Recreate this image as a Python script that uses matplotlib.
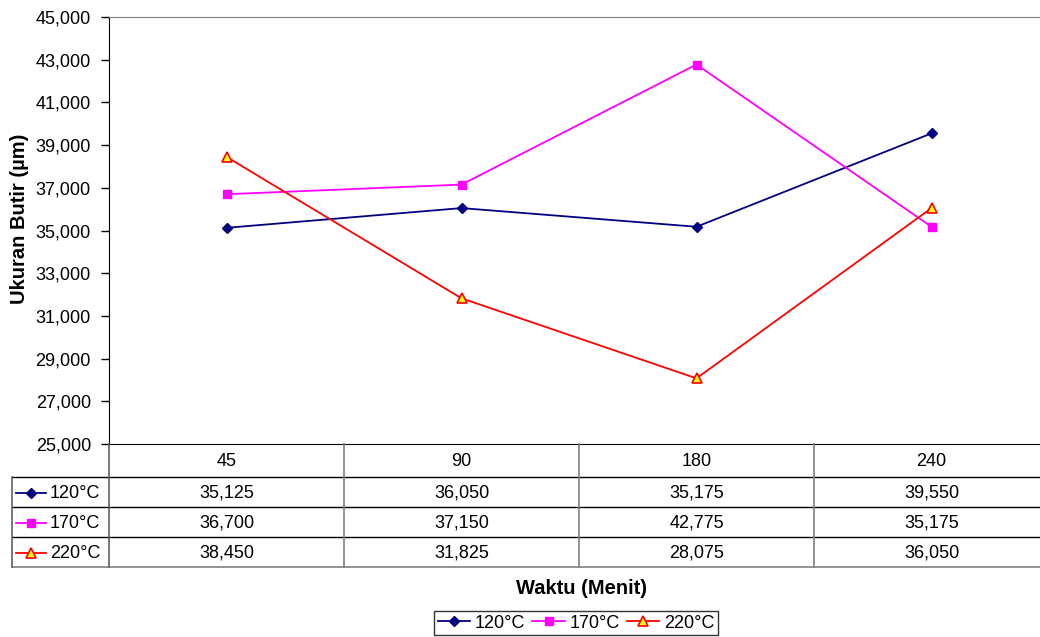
import matplotlib
matplotlib.use("Agg")
import matplotlib.pyplot as plt
from matplotlib.lines import Line2D

plt.rcParams["font.family"] = ["Liberation Sans", "DejaVu Sans"]

# Data
categories = ["45", "90", "180", "240"]
series_names = ["120°C", "170°C", "220°C"]
s120 = [35125, 36050, 35175, 39550]
s170 = [36700, 37150, 42775, 35175]
s220 = [38450, 31825, 28075, 36050]
y_ticks = list(range(25000, 45001, 2000))

styles = [
    dict(color="#000080", marker="D", mfc="#000080", mec="#000080", ms=5.5),
    dict(color="#FF00FF", marker="s", mfc="#FF00FF", mec="#FF00FF", ms=6),
    dict(color="#FF0000", marker="^", mfc="#FFFF00", mec="#FF0000", ms=7, mew=1.2),
]

FS = 13
W, H = 1040, 637
fig = plt.figure(figsize=(W / 100, H / 100), dpi=100)

# plot area in pixels
px_left, px_top, px_bottom = 109, 17, 444
col_w = 235
px_right = px_left + col_w * len(categories)
ax = fig.add_axes([px_left / W, 1 - px_bottom / H,
                   (px_right - px_left) / W, (px_bottom - px_top) / H])

x = list(range(len(categories)))
for vals, name, st in zip([s120, s170, s220], series_names, styles):
    ax.plot(x, vals, lw=1.3, label=name, **st)

ax.set_xlim(-0.5, len(categories) - 0.5)
ax.set_ylim(25000, 45000)
ax.set_yticks(y_ticks)
ax.set_yticklabels([f"{v:,}" for v in y_ticks], fontsize=FS)
ax.tick_params(axis="y", direction="out", length=6, width=1, pad=7)
ax.set_xticks([])
ax.spines["right"].set_visible(False)
ax.spines["top"].set_color("#808080")
ax.spines["left"].set_color("black")
ax.spines["bottom"].set_color("black")

# data table drawn in pixel coordinates
tab = fig.add_axes([0, 0, 1, 1], facecolor="none")
tab.set_xlim(0, W)
tab.set_ylim(H, 0)
tab.axis("off")

tab.text(20, 219, "Ukuran Butir (µm)", rotation=90, ha="center", va="center",
         fontsize=14.5, fontweight="bold")

row_h = 30
header_bottom = 477
rows_y = [header_bottom + i * row_h for i in range(len(series_names) + 1)]
table_bottom = rows_y[-1]
key_left = 12

# horizontal lines
for y in rows_y[:-1]:
    tab.plot([key_left, W], [y, y], color="black", lw=1)
tab.plot([key_left, W], [table_bottom, table_bottom], color="#808080", lw=1.2)
# vertical lines
tab.plot([px_left, px_left], [px_bottom, table_bottom], color="#606060", lw=1.2)
tab.plot([key_left, key_left], [header_bottom, table_bottom], color="#606060", lw=1.2)
for i in range(1, len(categories)):
    xx = px_left + i * col_w
    tab.plot([xx, xx], [px_bottom, table_bottom], color="#808080", lw=1.2)

# header
for i, c in enumerate(categories):
    tab.text(px_left + (i + 0.5) * col_w, (px_bottom + header_bottom) / 2 + 1, c,
             ha="center", va="center", fontsize=FS)

# rows
for r, (vals, name, st) in enumerate(zip([s120, s170, s220], series_names, styles)):
    yc = rows_y[r] + row_h / 2 + 1
    tab.plot([16, 46], [yc, yc], color=st["color"], lw=1.3)
    tab.plot([31], [yc], marker=st["marker"], mfc=st["mfc"], mec=st["mec"],
             ms=st["ms"] - 0.5, mew=st.get("mew", 1), ls="none")
    tab.text(50, yc, name, ha="left", va="center", fontsize=FS)
    for i, v in enumerate(vals):
        tab.text(px_left + (i + 0.5) * col_w, yc, f"{v:,}",
                 ha="center", va="center", fontsize=FS)

tab.text(581, 588, "Waktu (Menit)", ha="center", va="center",
         fontsize=14.5, fontweight="bold")

# legend
handles = [Line2D([], [], lw=1.3, **st) for st in styles]
leg = fig.legend(handles, series_names, loc="center", ncol=3,
                 bbox_to_anchor=(576 / W, 1 - 623 / H), frameon=True,
                 fancybox=False, edgecolor="black", fontsize=FS,
                 handlelength=1.8, handletextpad=0.25, columnspacing=0.4,
                 borderpad=0.2, borderaxespad=0)
leg.get_frame().set_linewidth(1)

fig.savefig("out.png", dpi=100)
